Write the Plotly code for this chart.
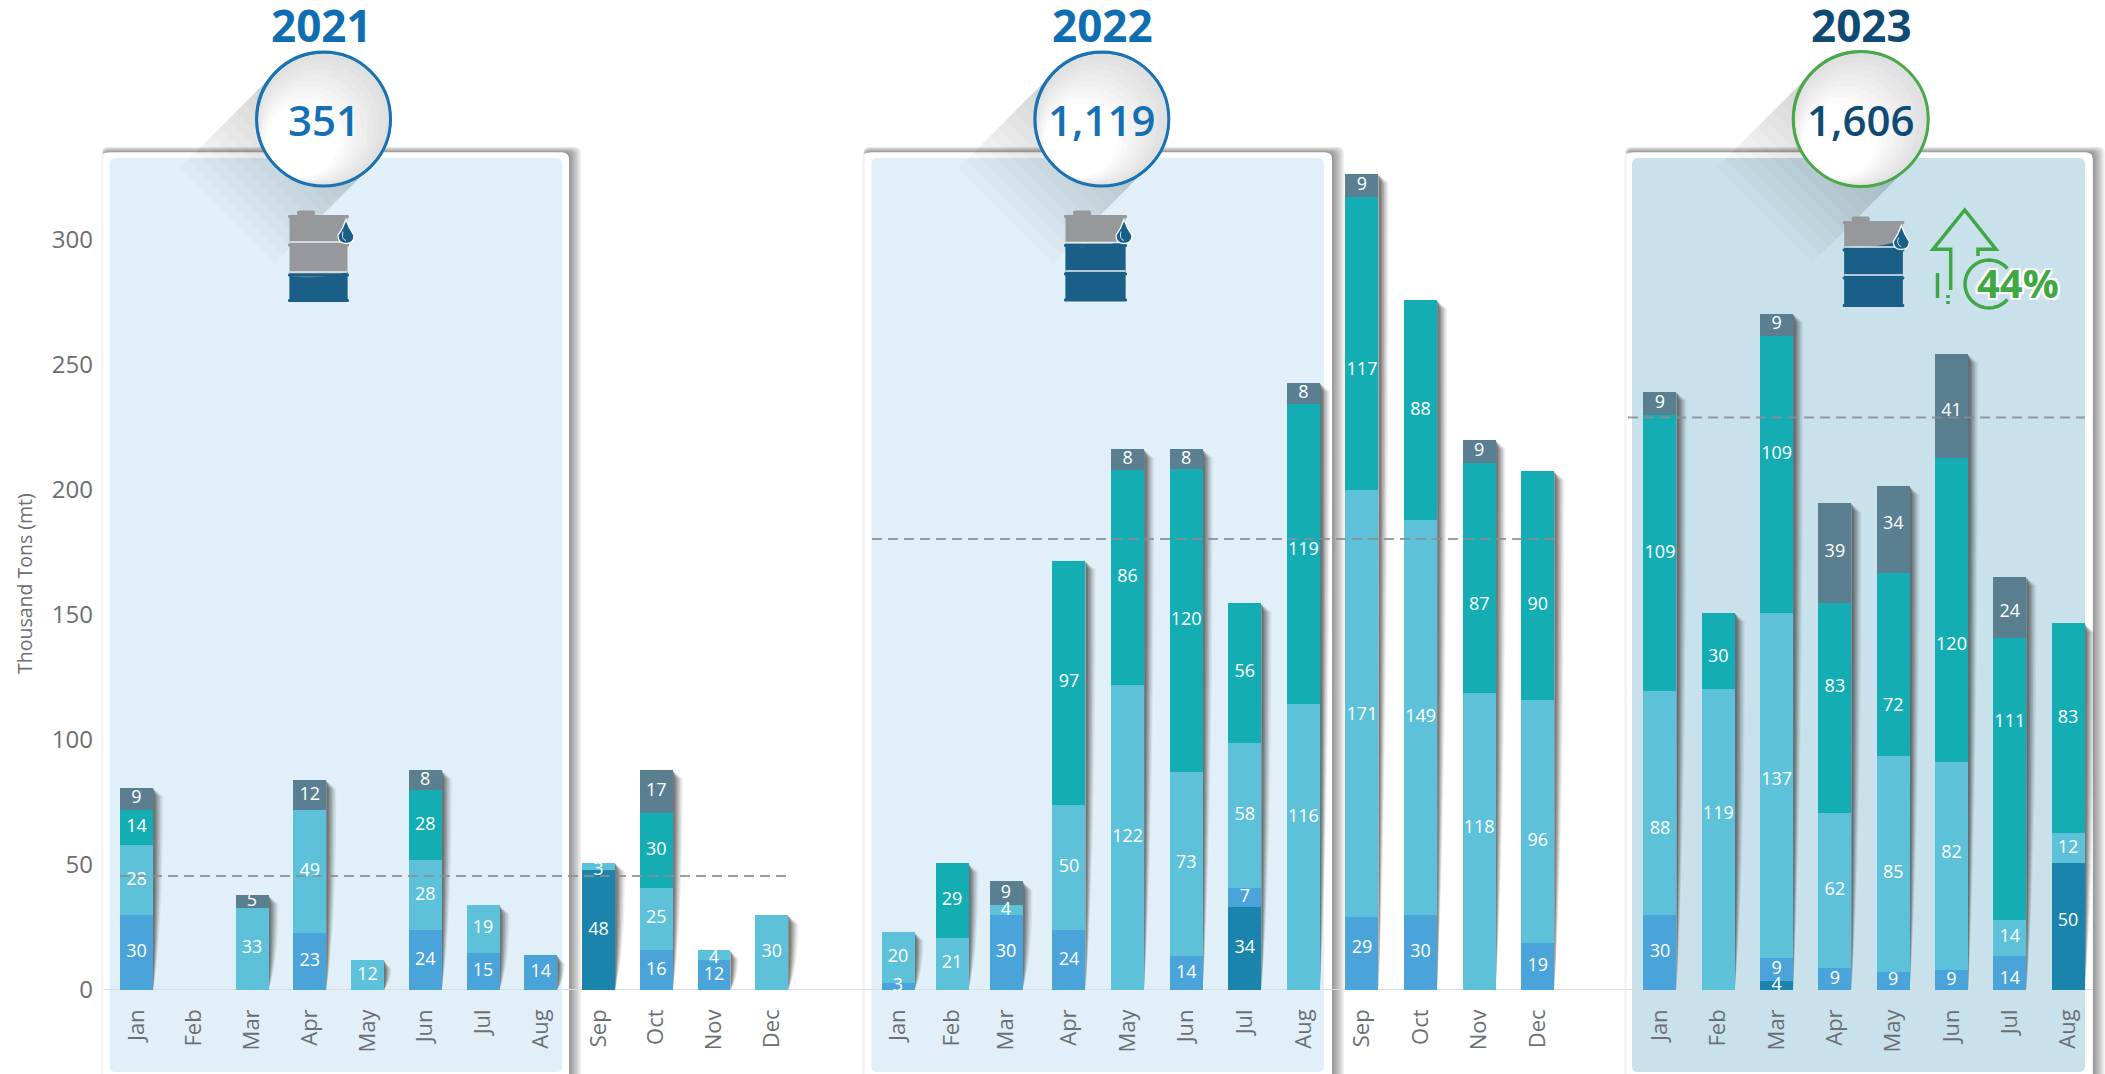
import numpy as np
import plotly.graph_objects as go

W, H = 2105, 1074
FONT = "Open Sans"

MONTHS_FULL = ["Jan", "Feb", "Mar", "Apr", "May", "Jun", "Jul", "Aug", "Sep", "Oct", "Nov", "Dec"]
MONTHS_2023 = MONTHS_FULL[:8]
AXIS_TITLE = "Thousand Tons (mt)"
Y_TICKS = [0, 50, 100, 150, 200, 250, 300]
YEARS = ["2021", "2022", "2023"]
YEAR_TOTALS = ["351", "1,119", "1,606"]
GROWTH_2023 = "44%"
AVERAGE_2021 = 45.6
AVERAGE_2022 = 180.4
AVERAGE_2023 = 229

# 2021 (bar heights equal the printed labels)
DARK_2021 = [None, None, None, None, None, None, None, None, 48, None, None, None]
BLUE_2021 = [30, None, None, 23, None, 24, 15, 14, None, 16, 12, None]
LIGHT_2021 = [28, None, 33, 49, 12, 28, 19, None, 3, 25, 4, 30]
TEAL_2021 = [14, None, None, None, None, 28, None, None, None, 30, None, None]
SLATE_2021 = [9, None, 5, 12, None, 8, None, None, None, 17, None, None]

# 2022 heights as drawn
DARK_2022 = [None, None, None, None, None, None, 33.3, None, None, None, None, None]
BLUE_2022 = [3, None, 30, 24, None, 13.6, 7.5, None, 29.2, 30, None, 18.7]
LIGHT_2022 = [20.3, 21, 4, 50, 122, 73.7, 58.2, 114.3, 171, 158, 119, 97.3]
TEAL_2022 = [None, 29.7, None, 97.7, 86, 121, 55.7, 120, 117.2, 88, 92, 91.6]
SLATE_2022 = [None, None, 9.6, None, 8.3, 8.1, None, 8.6, 9, None, 9, None]
# 2022 labels as printed
DARK_2022_L = [None, None, None, None, None, None, 34, None, None, None, None, None]
BLUE_2022_L = [3, None, 30, 24, None, 14, 7, None, 29, 30, None, 19]
LIGHT_2022_L = [20, 21, 4, 50, 122, 73, 58, 116, 171, 149, 118, 96]
TEAL_2022_L = [None, 29, None, 97, 86, 120, 56, 119, 117, 88, 87, 90]
SLATE_2022_L = [None, None, 9, None, 8, 8, None, 8, 9, None, 9, None]

# 2023 heights as drawn
DARK_2023 = [None, None, 3.7, None, None, None, None, 50.7]
BLUE_2023 = [30, None, 9.2, 8.8, 7.3, 8, 13.7, None]
LIGHT_2023 = [89.6, 120.4, 138, 62.2, 86.4, 83.2, 14.3, 12]
TEAL_2023 = [110.4, 30.6, 110.7, 84, 73.3, 121.6, 113, 84]
SLATE_2023 = [9.3, None, 9, 39.8, 34.6, 41.6, 24.3, None]
# 2023 labels as printed
DARK_2023_L = [None, None, 4, None, None, None, None, 50]
BLUE_2023_L = [30, None, 9, 9, 9, 9, 14, None]
LIGHT_2023_L = [88, 119, 137, 62, 85, 82, 14, 12]
TEAL_2023_L = [109, 30, 109, 83, 72, 120, 111, 83]
SLATE_2023_L = [9, None, 9, 39, 34, 41, 24, None]

SERIES_COLORS = ["#1a84ad", "#4aa3d9", "#5ec1da", "#15adb4", "#5a7f90"]

# Some printed labels sit away from the middle of their segment:
# (year, month, series index) -> shift in axis units
LABEL_SHIFT = {
    ("2023", "Jul", 3): 22.5, ("2023", "Jun", 3): -14, ("2023", "Mar", 3): 8, ("2023", "Apr", 3): 8,
    ("2023", "May", 3): -17, ("2023", "May", 2): -3.7, ("2023", "Jun", 2): 5, ("2023", "Jul", 1): -2.8,
    ("2023", "Jan", 2): -10.6, ("2023", "Feb", 2): 10, ("2023", "Feb", 3): -2.7, ("2023", "Aug", 3): 4,
    ("2023", "Aug", 0): 2, ("2023", "Mar", 2): 2, ("2023", "May", 4): 2, ("2023", "Jun", 4): -2, ("2023", "Jul", 4): -2,
    ("2022", "Aug", 2): 12, ("2022", "Sep", 2): -5, ("2022", "Sep", 3): -11, ("2022", "Nov", 2): 5,
    ("2022", "Nov", 3): -11, ("2022", "Dec", 2): -8, ("2022", "Dec", 3): -8, ("2022", "Sep", 1): 2,
    ("2022", "Aug", 3): 1.7, ("2021", "Sep", 2): -1.5, ("2021", "Nov", 2): -1.3,
}

# --- layout helpers -------------------------------------------------------
Y0_PX = 990.0
PX_PER_UNIT = 2.5
Y_TOP = Y0_PX / PX_PER_UNIT
BAR_PX = 33.0


def fx(x):
    return x / W


def fy(y):
    return 1 - y / H


def poly(points, close=True):
    s = "M " + " L ".join(f"{fx(x):.5f},{fy(y):.5f}" for x, y in points)
    return s + (" Z" if close else "")


def round_rect(x0, y0, x1, y1, r):
    p = lambda x, y: f"{fx(x):.5f},{fy(y):.5f}"
    return (f"M {p(x0 + r, y0)} L {p(x1 - r, y0)} Q {p(x1, y0)} {p(x1, y0 + r)} "
            f"L {p(x1, y1 - r)} Q {p(x1, y1)} {p(x1 - r, y1)} L {p(x0 + r, y1)} "
            f"Q {p(x0, y1)} {p(x0, y1 - r)} L {p(x0, y0 + r)} Q {p(x0, y0)} {p(x0 + r, y0)} Z")


shapes = []


def path_shape(path, fill=None, line=None, lw=0):
    shapes.append(dict(type="path", path=path, xref="paper", yref="paper", layer="below",
                       fillcolor=fill or "rgba(0,0,0,0)",
                       line=dict(color=line or "rgba(0,0,0,0)", width=lw)))


def circle(cx, cy, r, fill=None, line=None, lw=0):
    shapes.append(dict(type="circle", xref="paper", yref="paper", layer="below",
                       x0=fx(cx - r), x1=fx(cx + r), y0=fy(cy + r), y1=fy(cy - r),
                       fillcolor=fill or "rgba(0,0,0,0)",
                       line=dict(color=line or "rgba(0,0,0,0)", width=lw)))


def panel(x0, x1, inner_x0, inner_x1, fill):
    top, inner_top = 152.5, 158
    for k in range(1, 9):
        path_shape(round_rect(x0 - 0.2 * k, top - 0.7 * k, x1 + 1.5 * k, H + 30, 6),
                   fill="rgba(50,50,50,0.08)")
    path_shape(round_rect(x0 - 3, top, x1, H + 30, 7), fill="rgba(245,245,245,1)")
    path_shape(round_rect(x0, top, x1, H + 30, 7), fill="#ffffff")
    path_shape(round_rect(inner_x0, inner_top, inner_x1, 1072, 6), fill=fill)


def long_shadow(cx, cy, r):
    t = r * 0.707
    for L in range(8, 97, 8):
        path_shape(poly([(cx - t, cy - t), (cx - t - L, cy - t + L),
                         (cx + t - L, cy + t + L), (cx + t, cy + t)]),
                   fill="rgba(60,60,60,0.018)")


def medal(cx, cy, r, ring):
    circle(cx, cy, r, fill="#dfe0e2")
    steps = 9
    for i in range(1, steps + 1):
        rr = r * (1 - i * 0.05)
        off = (r - rr) * 0.707
        v = 223 + int(32 * i / steps)
        circle(cx - off, cy + off, rr, fill=f"rgb({v},{v},{min(v + 1, 255)})")
    circle(cx, cy, r, line=ring, lw=3)
    circle(cx + 0.8, cy + 0.8, r - 0.2, line=ring, lw=1)


def barrel(x0, x1, yt, yb, b1, b2, level, rise):
    gray, blue = "#96989b", "#1a5f88"
    ins = 1.5
    path_shape(round_rect(x0 + 9, yt - 6, x0 + 27, yt - 1, 2), fill=gray)
    path_shape(poly([(x0 + ins, yt), (x1 - ins, yt), (x1 - ins, yb), (x0 + ins, yb)]), fill=gray)
    p = lambda x, y: f"{fx(x):.5f},{fy(y):.5f}"
    path_shape(f"M {p(x0 + ins, level)} Q {p((x0 + x1) / 2, level + 4)} {p(x1 - ins, level - rise)} "
               f"L {p(x1 - ins, yb)} L {p(x0 + ins, yb)} Z", fill=blue)
    for y in (yt, b1, b2, yb):
        c = gray if y < level - 2 else blue
        if y == yb:
            c = blue
        path_shape(round_rect(x0, y - 1.5, x1, y + 1.5, 1.2), fill=c)
    for y in (b1, b2):
        path_shape(poly([(x0 + ins, y - 3), (x1 - ins, y - 3)], close=False), line="#e8eef2", lw=1.4)
    # oil drop
    dx, dt, db = x1 - 3, yt + 3, yt + 27
    mid = db - 8
    path_shape(f"M {p(dx, dt)} Q {p(dx + 3, dt + 9)} {p(dx + 8, mid)} Q {p(dx + 8, db)} {p(dx, db)} "
               f"Q {p(dx - 8, db)} {p(dx - 8, mid)} Q {p(dx - 3, dt + 9)} {p(dx, dt)} Z",
               fill=blue, line="#ffffff", lw=1.3)
    path_shape(f"M {p(dx - 3, mid - 4)} Q {p(dx - 5, mid + 4)} {p(dx, db - 3)}", line="#cfe4ee", lw=1)


# background decoration in paper space
panel(103.5, 569, 109.7, 562, "#e1f0f8")
panel(865, 1332, 871.4, 1324, "#e1f0f8")
panel(1627, 2092.7, 1632, 2085, "#c8e1ea")
MEDALS = [(323.5, 119, 67, "#1a72b2"), (1101.8, 119, 67, "#1a72b2"), (1860.7, 119, 67.5, "#4aa84b")]
for cx, cy, r, ring in MEDALS:
    long_shadow(cx, cy, r)
for cx, cy, r, ring in MEDALS:
    medal(cx, cy, r, ring)
barrel(288, 349, 216.5, 300.5, 245, 275, 276, 4)
barrel(1064, 1127, 216.5, 300, 245.5, 274, 246, 6)
barrel(1842.7, 1904.3, 222.5, 305.5, 250, 278, 246, 6)

# growth arrow
G = "#3fa845"
path_shape(poly([(1950.7, 290), (1950.7, 249.3), (1933, 249.3), (1964.7, 210), (1996, 249.3),
                 (1978, 249.3), (1978, 256)], close=False), line=G, lw=3.5)
path_shape(poly([(1937.5, 273), (1937.5, 298)], close=False), line=G, lw=3.5)
path_shape(poly([(1948, 295), (1948, 298)], close=False), line=G, lw=3.5)
path_shape(poly([(1948, 301), (1948, 304)], close=False), line=G, lw=3.5)
arc = [(1989 + 24 * np.cos(a), 284 + 24 * np.sin(a)) for a in np.radians(np.arange(40, 321, 10))]
path_shape(poly(arc, close=False), line=G, lw=3.5)

# baseline
shapes.append(dict(type="line", xref="paper", yref="y", x0=fx(104), x1=fx(2093), y0=0, y1=0,
                   layer="below", line=dict(color="#d9dee1", width=2)))

# --- bars -----------------------------------------------------------------
fig = go.Figure()


def add_group(year, axis_idx, first_px, step_px, cats, heights, labels):
    n = len(cats)
    left = first_px - step_px / 2
    right = first_px + (n - 0.5) * step_px
    suffix = "" if axis_idx == 1 else str(axis_idx)
    xname = "x" + suffix
    fig.update_layout({
        "xaxis" + suffix: dict(domain=[left / W, right / W], anchor="y", type="category",
                               categoryorder="array", categoryarray=cats, range=[-0.5, n - 0.5],
                               tickangle=-90, ticks="", ticklabelstandoff=14, showgrid=False,
                               zeroline=False, showline=False, automargin=False,
                               tickfont=dict(family=FONT, size=22, color="#6b6f72"))
    })
    bar_w = BAR_PX / step_px
    bottom = [0.0] * n
    text_x, text_y, text_s = [], [], []
    for s, (vals, labs, color) in enumerate(zip(heights, labels, SERIES_COLORS)):
        fig.add_trace(go.Bar(x=cats, y=vals, marker=dict(color=color, line=dict(width=0)), width=bar_w,
                             xaxis=xname, yaxis="y", showlegend=False, hoverinfo="skip"))
        for i, (v, l) in enumerate(zip(vals, labs)):
            if v is None:
                continue
            text_x.append(cats[i])
            text_y.append(bottom[i] + v / 2 + LABEL_SHIFT.get((year, cats[i], s), 0))
            text_s.append(str(l))
            bottom[i] += v
    fig.add_trace(go.Scatter(x=text_x, y=text_y, text=text_s, mode="text", textposition="middle center",
                             textfont=dict(family=FONT, size=18, color="#ffffff"), cliponaxis=False,
                             xaxis=xname, yaxis="y", showlegend=False, hoverinfo="skip"))
    # curled drop shadow to the right of each stack
    dx = lambda px: px / step_px
    half = bar_w / 2
    for i, total in enumerate(bottom):
        if total <= 0:
            continue
        for w, a in ((10, 0.07), (8.5, 0.1), (7, 0.13), (5.5, 0.16), (4, 0.2), (2.5, 0.24)):
            xr = i + half
            top = total - 1 / PX_PER_UNIT
            drop = min(8, total * PX_PER_UNIT * 0.3) / PX_PER_UNIT
            ww = min(w, w * (0.55 + total * PX_PER_UNIT * 0.006))
            shapes.append(dict(
                type="path", xref=xname, yref="y", layer="below",
                path=(f"M {xr:.4f},{top:.2f} L {xr + dx(ww):.4f},{top - drop:.2f} "
                      f"Q {xr + dx(ww):.4f},{total * 0.3:.2f} {xr:.4f},0 Z"),
                fillcolor=f"rgba(45,45,45,{a})", line=dict(width=0)))


def cut(lists, a, b):
    return [l[a:b] for l in lists]


H21 = [DARK_2021, BLUE_2021, LIGHT_2021, TEAL_2021, SLATE_2021]
H22 = [DARK_2022, BLUE_2022, LIGHT_2022, TEAL_2022, SLATE_2022]
L22 = [DARK_2022_L, BLUE_2022_L, LIGHT_2022_L, TEAL_2022_L, SLATE_2022_L]
H23 = [DARK_2023, BLUE_2023, LIGHT_2023, TEAL_2023, SLATE_2023]
L23 = [DARK_2023_L, BLUE_2023_L, LIGHT_2023_L, TEAL_2023_L, SLATE_2023_L]

add_group("2021", 1, 136.5, 57.75, MONTHS_FULL, H21, H21)
add_group("2022", 2, 898, 54, MONTHS_FULL[:3], cut(H22, 0, 3), cut(L22, 0, 3))
add_group("2022", 3, 1069, 58.6, MONTHS_FULL[3:], cut(H22, 3, 12), cut(L22, 3, 12))
add_group("2023", 4, 1660, 58.3, MONTHS_2023, H23, L23)

# average lines
for value, a, b in ((AVERAGE_2021, 120, 790), (AVERAGE_2022, 872, 1557), (AVERAGE_2023, 1628, 2085)):
    shapes.append(dict(type="line", xref="paper", yref="y", x0=fx(a), x1=fx(b), y0=value, y1=value,
                       layer="above", line=dict(color="rgba(135,142,146,0.85)", width=2, dash="10px,6px")))

# --- text -----------------------------------------------------------------
annotations = []


def label(text, x, y, size, color, weight=400, angle=0, shadow=None):
    f = dict(family=FONT, size=size, color=color, weight=weight)
    if shadow:
        f["shadow"] = shadow
    annotations.append(dict(text=text, x=fx(x), y=fy(y), xref="paper", yref="paper", xanchor="center",
                            yanchor="middle", showarrow=False, font=f, textangle=angle))


YEAR_COLORS = ["#0f6db2", "#0f6db2", "#0f4a73"]
TOTAL_COLORS = ["#1570b3", "#1570b3", "#0f4a73"]
for yr, tot, (cx, cy, r, ring), c1, c2, yx in zip(YEARS, YEAR_TOTALS, MEDALS, YEAR_COLORS, TOTAL_COLORS, (321, 1102, 1861)):
    label(yr, yx, 25, 44, c1, weight=700)
    label(tot, cx, cy, 42, c2, weight=600)
label(GROWTH_2023, 2018, 283, 40, "#3fa845", weight=700,
      shadow="2px 0 0 #fff, -2px 0 0 #fff, 0 2px 0 #fff, 0 -2px 0 #fff, 2px 2px 0 #fff, -2px -2px 0 #fff, 2px -2px 0 #fff, -2px 2px 0 #fff")
label(AXIS_TITLE, 24, 584, 19.5, "#6b6f72", angle=-90)

fig.update_layout(
    width=W, height=H, margin=dict(l=0, r=0, t=0, b=0, autoexpand=False), autosize=False,
    paper_bgcolor="#ffffff", plot_bgcolor="rgba(0,0,0,0)", barmode="stack", showlegend=False,
    hovermode=False, shapes=shapes, annotations=annotations,
    yaxis=dict(domain=[(H - Y0_PX) / H, 1], range=[0, Y_TOP], anchor="free", position=93 / W, side="left",
               tickmode="array", tickvals=Y_TICKS, ticktext=[str(v) for v in Y_TICKS], ticks="",
               showgrid=False, zeroline=False, showline=False,
               tickfont=dict(family=FONT, size=24, color="#6b6f72")),
)

fig.write_html("out.html", config=dict(displayModeBar=False),
               post_script="document.body.style.margin='0';document.documentElement.style.overflow='hidden';")
